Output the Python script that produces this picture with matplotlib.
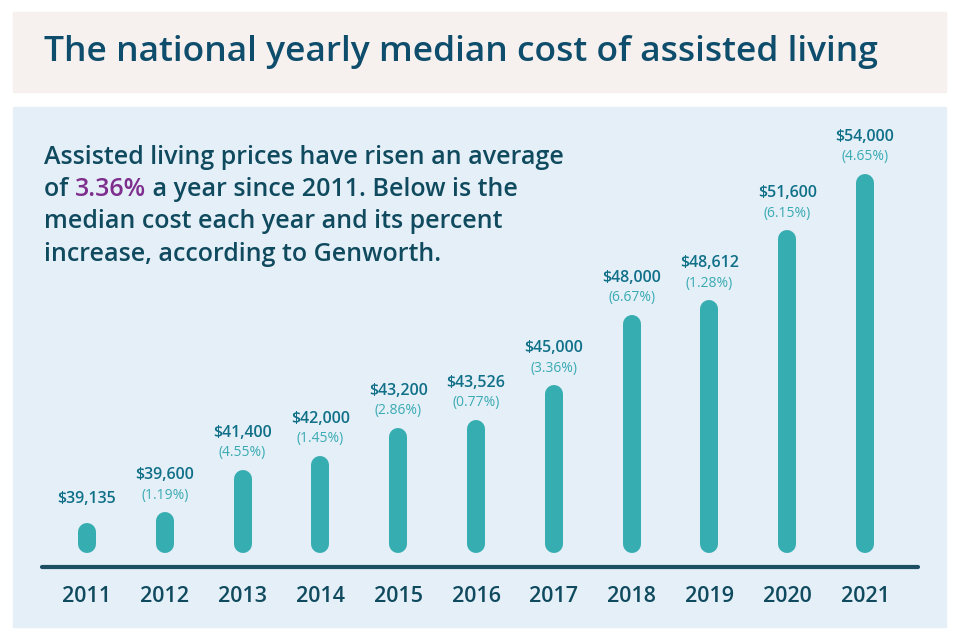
import matplotlib
matplotlib.use("Agg")
import matplotlib.pyplot as plt
from matplotlib.patches import Rectangle

plt.rcParams["font.family"] = ["Open Sans", "DejaVu Sans"]

# Data
years = ["2011", "2012", "2013", "2014", "2015", "2016",
         "2017", "2018", "2019", "2020", "2021"]
costs = [39135, 39600, 41400, 42000, 43200, 43526,
         45000, 48000, 48612, 51600, 54000]
pct_increase = [None, "1.19%", "4.55%", "1.45%", "2.86%", "0.77%",
                "3.36%", "6.67%", "1.28%", "6.15%", "4.65%"]

title = "The national yearly median cost of assisted living"
intro_lines = [
    [("Assisted living prices have risen an average", "text")],
    [("of ", "text"), ("3.36%", "accent"), (" a year since 2011. Below is the", "text")],
    [("median cost each year and its percent", "text")],
    [("increase, according to Genworth.", "text")],
]

# Colours
TITLE_BG = "#f6f1ef"
PANEL_BG = "#e5eff8"
NAVY = "#0e4d6b"
TEXT = "#0f4a5e"
PURPLE = "#7e2f8e"
BAR = "#35adb1"
VALUE = "#0f7088"
PCT = "#3aabb3"
BASE = "#1d4f62"

W, H = 960, 640
fig = plt.figure(figsize=(W / 100, H / 100), dpi=100)
fig.patch.set_facecolor("white")


def fx(px):
    return px / W


def fy(py):
    return 1 - py / H


# Background boxes
fig.patches.append(Rectangle((fx(13), fy(92)), fx(933), 80 / H,
                             transform=fig.transFigure, color=TITLE_BG, zorder=-5))
fig.patches.append(Rectangle((fx(13), fy(627)), fx(933), 520 / H,
                             transform=fig.transFigure, color=PANEL_BG, zorder=-5))

fig.text(fx(44), fy(52), title, fontsize=25.5, color=NAVY, fontweight="semibold",
         va="center", ha="left")

# Intro paragraph with the highlighted figure
renderer = fig.canvas.get_renderer()
colors = {"text": TEXT, "accent": PURPLE}
for i, line in enumerate(intro_lines):
    x = fx(44)
    y = fy(157 + i * 32.5)
    for chunk, kind in line:
        t = fig.text(x, y, chunk, fontsize=18, color=colors[kind],
                     fontweight="semibold", va="center", ha="left")
        bb = t.get_window_extent(renderer=renderer)
        x += bb.width / W

# Chart axes
ax = fig.add_axes([fx(42), fy(567), fx(918 - 42), (567 - 107) / H])
ax.set_zorder(3)
ax.set_facecolor("none")
y_bottom, y_top = 37267, 56846
ax.set_xlim(-0.578, 10.68)
ax.set_ylim(y_bottom, y_top)
bar_base = 37863

ax_h_px = 567 - 107
units_per_px = (y_top - y_bottom) / ax_h_px
half_w = 9 * units_per_px

xs = list(range(len(years)))
ax.vlines(xs, [bar_base + half_w] * len(xs), [c - half_w for c in costs],
          colors=BAR, linewidth=18 * 0.72, capstyle="round")

for i, (c, p) in enumerate(zip(costs, pct_increase)):
    if p is None:
        ax.annotate(f"${c:,}", (i, c), xytext=(0, 24 * 0.72), textcoords="offset points",
                    ha="center", va="center", fontsize=11.5, color=VALUE,
                    fontweight="semibold")
    else:
        ax.annotate(f"${c:,}", (i, c), xytext=(0, 37 * 0.72), textcoords="offset points",
                    ha="center", va="center", fontsize=11.5, color=VALUE,
                    fontweight="semibold")
        ax.annotate(f"({p})", (i, c), xytext=(0, 17 * 0.72), textcoords="offset points",
                    ha="center", va="center", fontsize=10, color=PCT)

for side in ["top", "left", "right"]:
    ax.spines[side].set_visible(False)
ax.spines["bottom"].set_color(BASE)
ax.spines["bottom"].set_linewidth(3)
ax.spines["bottom"].set_capstyle("round")
ax.set_yticks([])
ax.set_xticks(xs)
ax.set_xticklabels(years, fontsize=15.5, color=TEXT, fontweight="semibold")
ax.tick_params(axis="x", length=0, pad=14)

fig.savefig("out.png", dpi=100, facecolor="white")
